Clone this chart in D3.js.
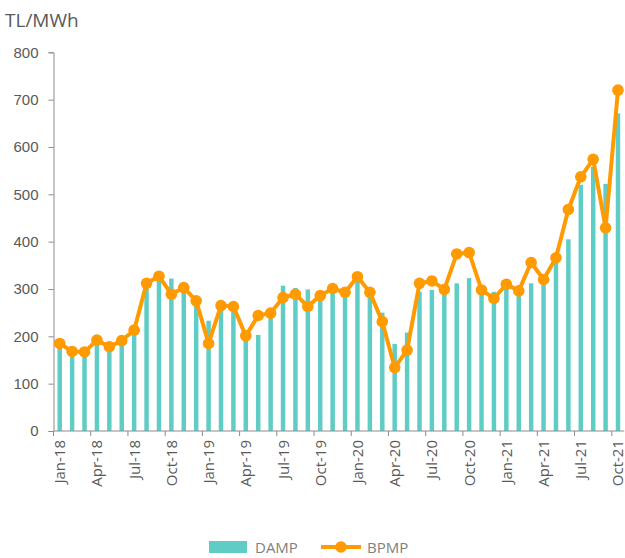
<!DOCTYPE html>
<html>
<head>
<meta charset="utf-8">
<script src="https://cdn.jsdelivr.net/npm/d3@7"></script>
<style>
    body { margin: 0; background: #fff; }
    svg { display: block; font-family: "Open Sans", sans-serif; }
</style>
</head>
<body>
<div id="chart"></div>
<script>
const months = ['Jan','Feb','Mar','Apr','May','Jun','Jul','Aug','Sep','Oct','Nov','Dec'];
const categories = [];
['18', '19', '20', '21'].forEach(yr => {
    months.forEach(m => categories.push(m + '-' + yr));
});
categories.splice(46);

const damp = [
    178, 160, 160, 185, 171, 182, 206, 301, 319, 322, 298, 266,
    233, 258, 254, 196, 203, 241, 307, 302, 299, 290, 297, 291,
    319, 291, 250, 184, 208, 294, 298, 295, 312, 323, 291, 294,
    301, 294, 312, 315, 358, 405, 520, 558, 522, 671
];
const bpmp = [
    185, 168, 167, 192, 178, 191, 213, 312, 327, 289, 303, 275,
    185, 265, 263, 201, 244, 249, 282, 289, 263, 286, 301, 293,
    326, 293, 231, 134, 171, 312, 317, 299, 374, 377, 298, 280,
    310, 296, 356, 320, 366, 468, 537, 574, 429, 720
];
const yTicks = [0, 100, 200, 300, 400, 500, 600, 700, 800];

const width = 625;
const height = 558;
const margin = { left: 53.5, right: 0.8, top: 52.3, bottom: 127 };
const colors = { damp: '#5fcdc5', bpmp: '#ff9a00', text: '#595959', axis: '#8c8c8c' };

const svg = d3.select('#chart')
    .append('svg')
    .attr('width', width)
    .attr('height', height);

const x = d3.scaleBand()
    .domain(categories)
    .range([margin.left, width - margin.right])
    .padding(0);

const y = d3.scaleLinear()
    .domain([0, 800])
    .range([height - margin.bottom, margin.top]);

const barW = x.bandwidth() * 0.36;

// bars
svg.append('g')
    .selectAll('rect')
    .data(damp)
    .enter()
    .append('rect')
    .attr('x', (d, i) => x(categories[i]) + x.bandwidth() / 2 - barW / 2)
    .attr('y', d => y(d))
    .attr('width', barW)
    .attr('height', d => y(0) - y(d))
    .attr('fill', colors.damp);

// y axis
const yAxis = svg.append('g')
    .attr('transform', `translate(${margin.left},0)`)
    .call(d3.axisLeft(y).tickValues(yTicks).tickSize(5).tickPadding(10));
yAxis.select('.domain').attr('stroke', colors.axis);
yAxis.selectAll('line').attr('stroke', colors.axis);
yAxis.selectAll('text').attr('fill', colors.text).style('font-size', '15px');

// x axis: ticks at every third category boundary
const xAxis = svg.append('g')
    .attr('transform', `translate(0,${y(0)})`);
xAxis.append('line')
    .attr('x1', margin.left)
    .attr('x2', width - margin.right)
    .attr('stroke', colors.axis);
xAxis.selectAll('line.tick')
    .data(categories.filter((c, i) => i % 3 === 0))
    .enter()
    .append('line')
    .attr('class', 'tick')
    .attr('x1', d => x(d))
    .attr('x2', d => x(d))
    .attr('y1', 0)
    .attr('y2', 5)
    .attr('stroke', colors.axis);
xAxis.selectAll('text')
    .data(categories.filter((c, i) => i % 3 === 0))
    .enter()
    .append('text')
    .attr('transform', d => `translate(${x(d) + x.bandwidth() / 2 + 5.5},9) rotate(-90)`)
    .attr('text-anchor', 'end')
    .attr('fill', colors.text)
    .style('font-size', '15px')
    .text(d => d);

// line
const line = d3.line()
    .x((d, i) => x(categories[i]) + x.bandwidth() / 2)
    .y(d => y(d));

svg.append('path')
    .datum(bpmp)
    .attr('d', line)
    .attr('fill', 'none')
    .attr('stroke', colors.bpmp)
    .attr('stroke-width', 4)
    .attr('stroke-linejoin', 'round');

svg.append('g')
    .selectAll('circle')
    .data(bpmp)
    .enter()
    .append('circle')
    .attr('cx', (d, i) => x(categories[i]) + x.bandwidth() / 2)
    .attr('cy', d => y(d))
    .attr('r', 5.8)
    .attr('fill', colors.bpmp);

// unit label
svg.append('text')
    .attr('x', 5)
    .attr('y', 27)
    .attr('fill', colors.text)
    .style('font-size', '19px')
    .text('TL/MWh');

// legend
const legend = svg.append('g').attr('transform', 'translate(0,547)');
legend.append('rect')
    .attr('x', 209)
    .attr('y', -6)
    .attr('width', 38)
    .attr('height', 12)
    .attr('fill', colors.damp);
legend.append('text')
    .attr('x', 255)
    .attr('y', 6)
    .attr('fill', '#7f7f7f')
    .style('font-size', '15px')
    .text('DAMP');
legend.append('line')
    .attr('x1', 321)
    .attr('x2', 361)
    .attr('stroke', colors.bpmp)
    .attr('stroke-width', 4);
legend.append('circle')
    .attr('cx', 341)
    .attr('r', 5.8)
    .attr('fill', colors.bpmp);
legend.append('text')
    .attr('x', 367)
    .attr('y', 6)
    .attr('fill', '#7f7f7f')
    .style('font-size', '15px')
    .text('BPMP');
</script>
</body>
</html>
